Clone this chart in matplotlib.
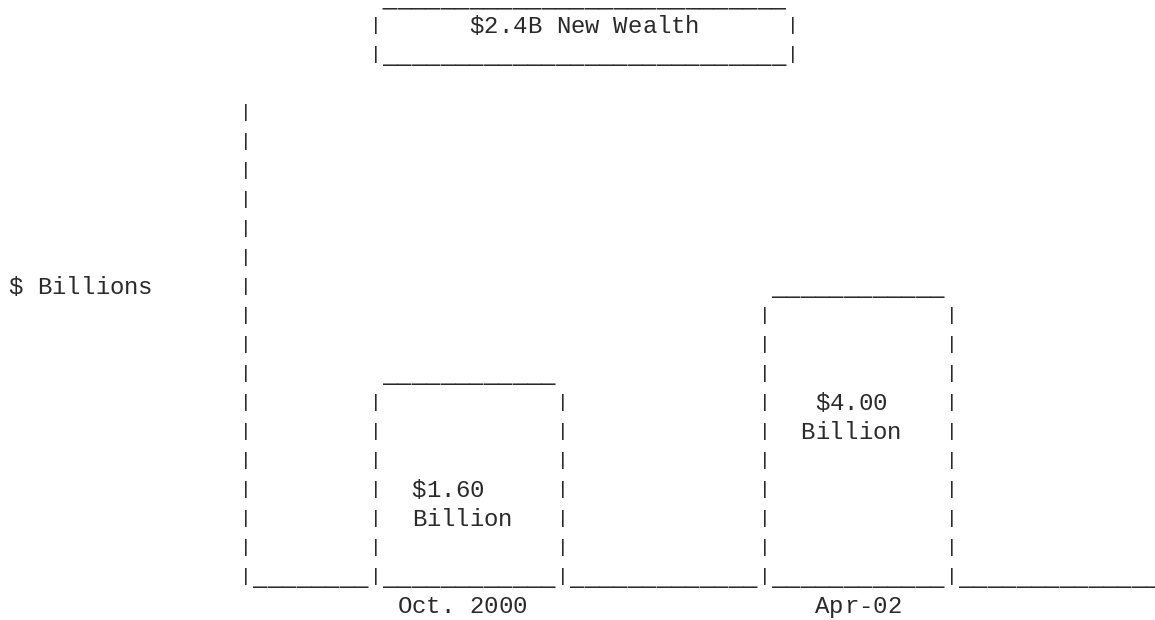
import matplotlib
matplotlib.use("Agg")
import matplotlib.pyplot as plt

# data
categories = ["Oct. 2000", "Apr-02"]
values = [1.60, 4.00]
y_label = "$ Billions"
unit_word = "Billion"

# layout of the text grid (columns / rows of characters)
ncols, nrows = 80, 22
axis_col = 16
axis_top = 4
base_row = 20
label_row = 21
bar_left = [25, 52]
bar_width = 13
value_indent = [3, 4]
box_left, box_right = 25, 54
row_offset = 5        # rows drawn for a zero value
rows_per_unit = 1.25  # rows per billion

grid = [[" "] * ncols for _ in range(nrows)]

def put(row, col, text):
    for i, ch in enumerate(text):
        if 0 <= col + i < ncols:
            grid[row][col + i] = ch

# new wealth box on top
gain = values[1] - values[0]
box_text = "$%.1fB New Wealth" % gain
inner = box_right - box_left - 1
put(0, box_left + 1, "_" * inner)
put(1, box_left, "|")
put(1, box_left + 1 + (inner - len(box_text)) // 2, box_text)
put(1, box_right, "|")
put(2, box_left, "|" + "_" * inner + "|")

# y axis and base line
for r in range(axis_top, base_row + 1):
    put(r, axis_col, "|")
put(10, 0, y_label)
put(base_row, axis_col + 1, "_" * (ncols - axis_col - 1))

# bars
for i, (cat, v) in enumerate(zip(categories, values)):
    left = bar_left[i]
    right = left + bar_width
    top = base_row - int(round(row_offset + v * rows_per_unit))
    put(top, left + 1, "_" * (bar_width - 1))
    for r in range(top + 1, base_row + 1):
        put(r, left, "|")
        put(r, right, "|")
    put(top + 4, left + value_indent[i], "$%.2f" % v)
    put(top + 5, left + 1 + (bar_width - 1 - len(unit_word)) // 2, unit_word)
    put(label_row, left + 1 + (bar_width - 1 - len(cat)) // 2, cat)

# draw
W, H, dpi = 1155, 620, 100
fig = plt.figure(figsize=(W / dpi, H / dpi), dpi=dpi)
ax = fig.add_axes([0, 0, 1, 1])
cw, x0 = 14.4, 15.7   # pixel width of a column, pixel centre of column 0
rh, y0 = 29.0, -3.0   # pixel height of a row, pixel centre of row 0
ax.set_xlim(-x0 / cw, (W - x0) / cw)
ax.set_ylim((H - y0) / rh, -y0 / rh)
ax.axis("off")

font = "Liberation Mono"
ink = "#2a2a2a"
for r in range(nrows):
    for c in range(ncols):
        ch = grid[r][c]
        if ch == " ":
            continue
        if ch == "|":
            ax.text(c, r + 0.13, ch, ha="center", va="baseline",
                    family=font, fontsize=14, color=ink)
        elif ch == "_" and r == 0:
            # flipped so the glyph box stays inside the figure
            ax.text(c, 0.24, ch, ha="center", va="top", rotation=180,
                    family=font, fontsize=17.28, color=ink)
        elif ch == "_":
            ax.text(c, r + 0.26, ch, ha="center", va="baseline",
                    family=font, fontsize=17.28, color=ink)
        else:
            ax.text(c, r + 0.24, ch, ha="center", va="baseline",
                    family=font, fontsize=17.28, color=ink)

fig.savefig("out.png", dpi=dpi)
